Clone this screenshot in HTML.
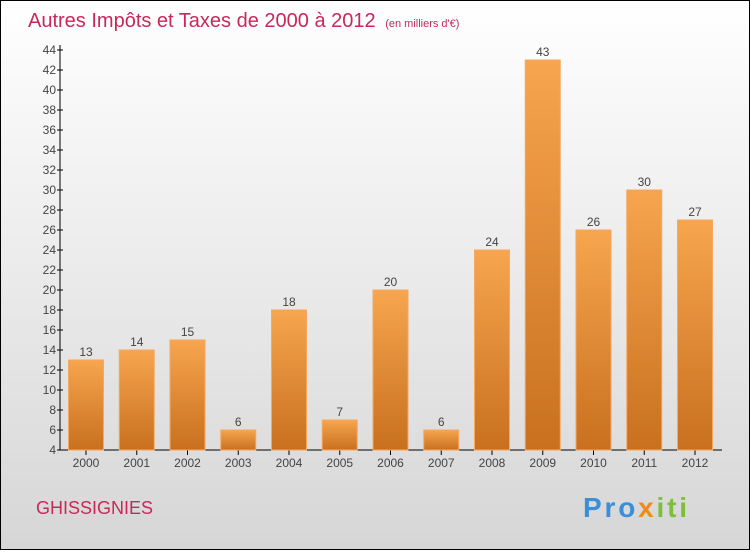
<!DOCTYPE html>
<html><head><meta charset="utf-8"><style>
body{margin:0}
svg text{font-family:"Liberation Sans",sans-serif}
</style></head><body>
<svg width="750" height="550" xmlns="http://www.w3.org/2000/svg">
<defs>
<linearGradient id="bg" x1="0" y1="0" x2="0" y2="1"><stop offset="0" stop-color="#ffffff"/><stop offset="1" stop-color="#d6d6d6"/></linearGradient>
<linearGradient id="bar" x1="0" y1="0" x2="0" y2="1"><stop offset="0" stop-color="#f7a54f"/><stop offset="1" stop-color="#c8701e"/></linearGradient>
</defs>
<rect x="0.5" y="0.5" width="749" height="549" fill="url(#bg)" stroke="#000"/>
<text x="28" y="27" font-size="20" fill="#c8285a">Autres Impôts et Taxes de 2000 à 2012 <tspan font-size="11" dx="4">(en milliers d'€)</tspan></text>
<text x="36" y="514" font-size="18" fill="#c8285a">GHISSIGNIES</text>
<text x="583" y="517" font-size="28" font-weight="bold" textLength="104"><tspan fill="#3a8fd8">Pro</tspan><tspan fill="#f08a1c">x</tspan><tspan fill="#7cc03a">iti</tspan></text>
<g id="axes"></g>
<g id="bars"></g>
</svg>
<script>
const years=["2000","2001","2002","2003","2004","2005","2006","2007","2008","2009","2010","2011","2012"];
const values=[13,14,15,6,18,7,20,6,24,43,26,30,27];
const yTicks=[4,6,8,10,12,14,16,18,20,22,24,26,28,30,32,34,36,38,40,42,44];
const NS="http://www.w3.org/2000/svg";
const y=v=>450-(v-4)*10;
const xc=i=>86+i*50.75;
function mk(tag,attrs,parent){const e=document.createElementNS(NS,tag);for(const k in attrs)e.setAttribute(k,attrs[k]);parent.appendChild(e);return e;}
const ax=document.getElementById('axes'),bg=document.getElementById('bars');
let l=mk('line',{x1:60,y1:45,x2:60,y2:450,stroke:'#000'},ax);


l=mk('line',{x1:60,y1:450,x2:722,y2:450,stroke:'#000'},ax);


yTicks.forEach(v=>{
 const t=mk('line',{x1:57,x2:63,y1:y(v),y2:y(v),stroke:'#000'},ax);
 
 
 const tx=mk('text',{x:56,y:y(v)+4,'font-size':12,'text-anchor':'end',fill:'#444'},ax);
 tx.textContent=v;
 
 
});
years.forEach((yr,i)=>{
 const r=mk('rect',{x:xc(i)-17.5,y:y(values[i]),width:35,height:450-y(values[i]),fill:'url(#bar)',stroke:'#f4a860','stroke-width':1},bg);
 
 
 const t=mk('text',{x:xc(i),y:y(values[i])-4,'font-size':12,'text-anchor':'middle',fill:'#444'},bg);
 t.textContent=values[i];
 
 
 const tk=mk('line',{x1:xc(i),x2:xc(i),y1:450,y2:455,stroke:'#000'},ax);
 
 
 const xl=mk('text',{x:xc(i),y:467,'font-size':12,'text-anchor':'middle',fill:'#444'},ax);
 xl.textContent=yr;
 
 
});
</script>
</body></html>
